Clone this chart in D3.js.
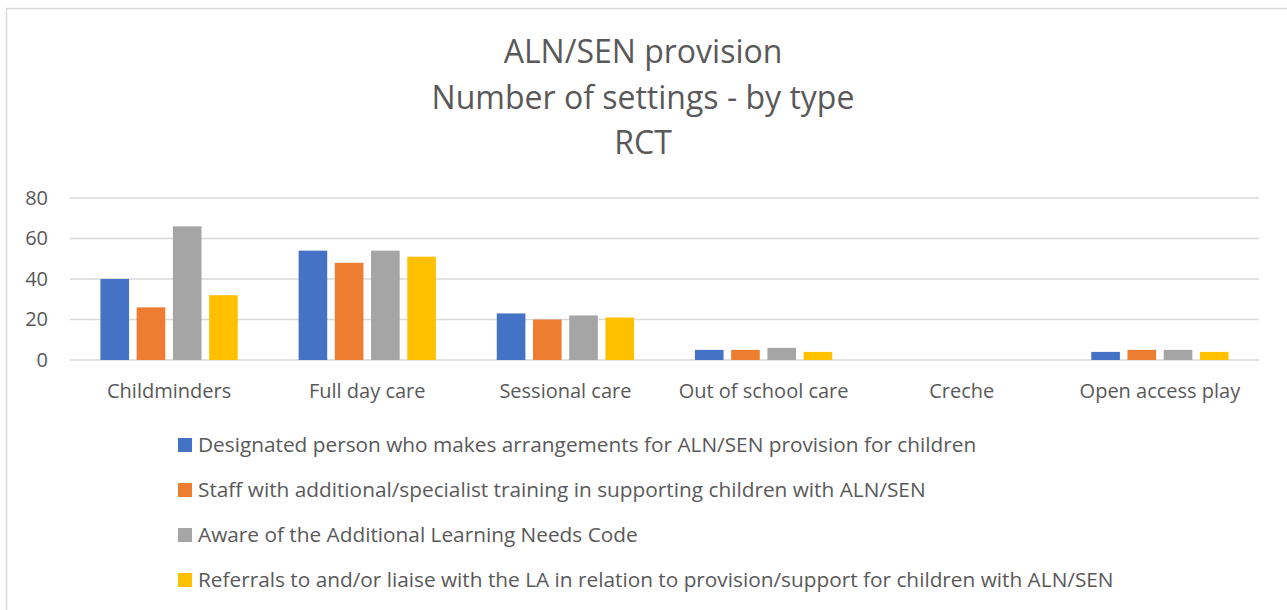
<!DOCTYPE html>
<html>
<head>
<meta charset="utf-8">
<script src="https://cdn.jsdelivr.net/npm/d3@7"></script>
<style>
  body { margin: 0; background: #fff; }
  svg { display: block; font-family: "Open Sans", Lato, sans-serif; }
</style>
</head>
<body>
<svg id="chart" width="1287" height="610"></svg>
<script>
// --- data ---
const titleLines = ["ALN/SEN provision", "Number of settings - by type", "RCT"];
const categories = ["Childminders", "Full day care", "Sessional care", "Out of school care", "Creche", "Open access play"];
const seriesNames = [
  "Designated person who makes arrangements for ALN/SEN provision for children",
  "Staff with additional/specialist training in supporting children with ALN/SEN",
  "Aware of the Additional Learning Needs Code",
  "Referrals to and/or liaise with the LA in relation to provision/support for children with ALN/SEN"
];
const designated = [40, 54, 23, 5, 0, 4];
const staffTraining = [26, 48, 20, 5, 0, 5];
const awareCode = [66, 54, 22, 6, 0, 5];
const referrals = [32, 51, 21, 4, 0, 4];
const yTicks = [0, 20, 40, 60, 80];
const colors = ["#4472C4", "#ED7D31", "#A5A5A5", "#FFC000"];

const seriesValues = [designated, staffTraining, awareCode, referrals];
const textColor = "#595959";
const fontFam = "'Open Sans', Lato, sans-serif";

const svg = d3.select("#chart");

// chart frame
svg.append("rect")
  .attr("x", 6.5).attr("y", 8.5)
  .attr("width", 1300).attr("height", 620)
  .attr("fill", "#fff")
  .attr("stroke", "#d9d9d9")
  .attr("stroke-width", 1.5);

// title
svg.append("g").selectAll("text")
  .data(titleLines)
  .join("text")
  .attr("x", 643)
  .attr("y", (d, i) => 63 + i * 45.5)
  .attr("text-anchor", "middle")
  .attr("fill", textColor)
  .attr("font-size", "32px")
  .text(d => d);

// scales
const x0 = d3.scaleBand().domain(categories).range([70, 1259]).padding(0);
const x1 = d3.scaleBand().domain(d3.range(seriesNames.length))
  .range([0, x0.bandwidth()]).paddingInner(0.21).paddingOuter(0.84);
const y = d3.scaleLinear().domain([0, 80]).range([360, 198]);

// gridlines
svg.append("g").selectAll("line")
  .data(yTicks)
  .join("line")
  .attr("x1", 70).attr("x2", 1259)
  .attr("y1", d => y(d)).attr("y2", d => y(d))
  .attr("stroke", "#d9d9d9")
  .attr("stroke-width", 1.5);

// y axis labels
const yAxis = svg.append("g")
  .attr("transform", "translate(48,0)")
  .call(d3.axisLeft(y).tickValues(yTicks).tickSize(0).tickPadding(0));
yAxis.select(".domain").remove();
yAxis.selectAll("text")
  .attr("fill", textColor)
  .attr("font-size", "20px")
  .attr("font-family", fontFam);

// bars
const rows = categories.map((c, ci) => ({ cat: c, vals: seriesValues.map(s => s[ci]) }));
svg.append("g").selectAll("g")
  .data(rows)
  .join("g")
  .attr("transform", d => `translate(${x0(d.cat)},0)`)
  .selectAll("rect")
  .data(d => d.vals.map((v, si) => ({ v, si })))
  .join("rect")
  .attr("x", d => x1(d.si))
  .attr("width", x1.bandwidth())
  .attr("y", d => y(d.v))
  .attr("height", d => y(0) - y(d.v))
  .attr("fill", d => colors[d.si]);

// x axis labels
const xAxis = svg.append("g")
  .attr("transform", "translate(0,384)")
  .call(d3.axisBottom(x0).tickSize(0).tickPadding(0));
xAxis.select(".domain").remove();
xAxis.selectAll("text")
  .attr("fill", textColor)
  .attr("font-size", "20px")
  .attr("font-family", fontFam);

// legend
const legend = svg.append("g").selectAll("g")
  .data(seriesNames)
  .join("g")
  .attr("transform", (d, i) => `translate(178,${445 + i * 45})`);
legend.append("rect")
  .attr("x", 0).attr("y", -7)
  .attr("width", 14).attr("height", 14)
  .attr("fill", (d, i) => colors[i]);
legend.append("text")
  .attr("x", 20).attr("y", 0)
  .attr("dy", "0.35em")
  .attr("fill", textColor)
  .attr("font-size", "20.8px")
  .text(d => d);
</script>
</body>
</html>
